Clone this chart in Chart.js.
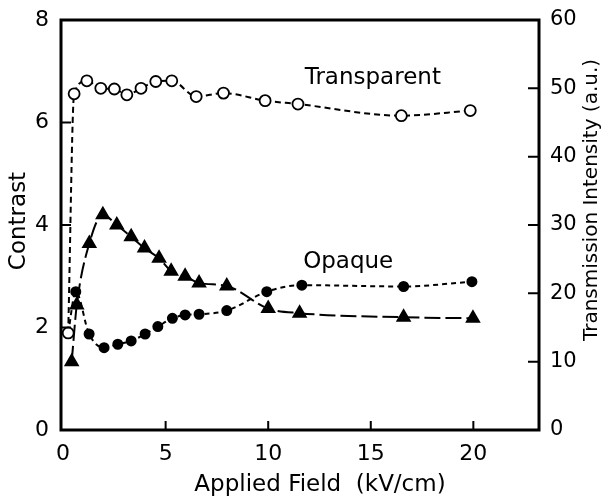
<!DOCTYPE html>
<html>
<head>
<meta charset="utf-8">
<script src="https://cdn.jsdelivr.net/npm/chart.js@4"></script>
<style>
  html, body { margin: 0; padding: 0; background: #fff; }
</style>
</head>
<body>
<canvas id="fieldChart" width="606" height="502"></canvas>
<script>
// applied field (kV/cm) for each series
var fieldTransparent = [0.25, 0.54, 1.16, 1.84, 2.5, 3.11, 3.8, 4.52, 5.3, 6.49, 7.82, 9.85, 11.45, 16.49, 19.85];
var fieldOpaque = [0.25, 0.62, 1.27, 2.0, 2.67, 3.32, 4.0, 4.62, 5.33, 5.95, 6.63, 7.98, 9.93, 11.64, 16.6, 19.93];
var fieldContrast = [0.42, 0.67, 1.28, 1.94, 2.62, 3.32, 3.97, 4.68, 5.27, 5.95, 6.63, 7.98, 10.0, 11.53, 16.6, 19.98];

// transmission intensity (a.u.), right axis
var transparent = [14.2, 49.2, 51.1, 50.0, 49.9, 49.05, 50.0, 51.0, 51.1, 48.8, 49.3, 48.2, 47.7, 46.0, 46.75];
var opaque = [14.2, 20.25, 14.05, 12.05, 12.55, 13.03, 14.05, 15.13, 16.35, 16.84, 16.94, 17.47, 20.25, 21.2, 21.0, 21.7];

// contrast, left axis
var contrast = [1.33, 2.44, 3.64, 4.2, 4.0, 3.77, 3.55, 3.35, 3.1, 3.0, 2.87, 2.81, 2.37, 2.28, 2.2, 2.18];

var xTicks = [0, 5, 10, 15, 20];
var curveLabels = [
    { text: 'Transparent', x: 15.1, y: 51.5 },
    { text: 'Opaque', x: 13.9, y: 24.6 }
];

var FONT = 'DejaVu Sans';

function toPoints(xs, ys) {
    return ys.map(function(v, i) { return { x: xs[i], y: v }; });
}

// frame, inward tick marks, curve names and axis titles
var framePlugin = {
    id: 'frame',
    afterDraw: function(chart) {
        var ctx = chart.ctx;
        var a = chart.chartArea;
        var sx = chart.scales.x, sy = chart.scales.y, sy2 = chart.scales.y2;
        ctx.save();
        ctx.strokeStyle = '#000';
        ctx.lineWidth = 3;
        ctx.strokeRect(a.left, a.top, a.right - a.left, a.bottom - a.top);

        ctx.lineWidth = 2;
        ctx.beginPath();
        sy.ticks.forEach(function(t) {
            if (t.value <= sy.min || t.value >= sy.max) return;
            var p = sy.getPixelForValue(t.value);
            ctx.moveTo(a.left, p); ctx.lineTo(a.left + 10, p);
        });
        sy2.ticks.forEach(function(t) {
            if (t.value <= sy2.min || t.value >= sy2.max) return;
            var p = sy2.getPixelForValue(t.value);
            ctx.moveTo(a.right, p); ctx.lineTo(a.right - 11, p);
        });
        xTicks.forEach(function(v) {
            if (v === 0) return;
            var p = sx.getPixelForValue(v);
            ctx.moveTo(p, a.bottom); ctx.lineTo(p, a.bottom - 9);
        });
        ctx.stroke();

        ctx.fillStyle = '#000';
        ctx.textAlign = 'center';
        ctx.textBaseline = 'middle';
        ctx.font = '23px "' + FONT + '"';
        curveLabels.forEach(function(l) {
            ctx.fillText(l.text, sx.getPixelForValue(l.x), sy2.getPixelForValue(l.y));
        });

        ctx.font = '23px "' + FONT + '"';
        ctx.fillText('Applied Field  (kV/cm)', 320, 485);

        ctx.save();
        ctx.translate(19, 221);
        ctx.rotate(-Math.PI / 2);
        ctx.font = '23px "' + FONT + '"';
        ctx.fillText('Contrast', 0, 0);
        ctx.restore();

        ctx.save();
        ctx.translate(592, 200);
        ctx.rotate(-Math.PI / 2);
        ctx.font = '20px "' + FONT + '"';
        ctx.fillText('Transmission Intensity (a.u.)', 0, 0);
        ctx.restore();

        ctx.restore();
    }
};

var chart = new Chart(document.getElementById('fieldChart'), {
    type: 'line',
    data: {
        datasets: [{
            label: 'Transparent',
            data: toPoints(fieldTransparent, transparent),
            yAxisID: 'y2',
            borderColor: '#000',
            borderWidth: 2,
            borderDash: [6, 4],
            pointStyle: 'circle',
            pointRadius: 5.5,
            pointBorderWidth: 1.8,
            pointBackgroundColor: '#fff',
            pointBorderColor: '#000',
            tension: 0.3,
            cubicInterpolationMode: 'monotone',
            order: 1
        }, {
            label: 'Opaque',
            data: toPoints(fieldOpaque, opaque),
            yAxisID: 'y2',
            borderColor: '#000',
            borderWidth: 2,
            borderDash: [5, 4],
            pointStyle: 'circle',
            pointRadius: function(c) { return c.dataIndex === 0 ? 0 : 4.5; },
            pointBackgroundColor: '#000',
            pointBorderColor: '#000',
            tension: 0.3,
            cubicInterpolationMode: 'monotone',
            order: 2
        }, {
            label: 'Contrast',
            data: toPoints(fieldContrast, contrast),
            yAxisID: 'y',
            borderColor: '#000',
            borderWidth: 2,
            borderDash: [16, 5],
            pointStyle: 'triangle',
            pointRadius: 7,
            pointBackgroundColor: '#000',
            pointBorderColor: '#000',
            tension: 0.3,
            cubicInterpolationMode: 'monotone',
            order: 3
        }]
    },
    options: {
        responsive: false,
        animation: false,
        layout: { padding: { top: 20, left: 0, right: 0, bottom: 0 } },
        plugins: {
            legend: { display: false },
            tooltip: { enabled: false }
        },
        scales: {
            x: {
                type: 'linear',
                position: 'bottom',
                min: -0.1,
                max: 23.2,
                afterBuildTicks: function(s) {
                    s.ticks = xTicks.map(function(v) { return { value: v }; });
                },
                afterFit: function(s) { s.height = 72; },
                grid: { display: false },
                border: { display: false },
                ticks: {
                    color: '#000',
                    padding: 3,
                    maxRotation: 0,
                    font: { family: FONT, size: 22 }
                }
            },
            y: {
                position: 'left',
                min: 0,
                max: 8,
                afterFit: function(s) { s.width = 61; },
                grid: { display: false },
                border: { display: false },
                ticks: {
                    stepSize: 2,
                    color: '#000',
                    padding: 4,
                    font: { family: FONT, size: 22 }
                }
            },
            y2: {
                position: 'right',
                min: 0,
                max: 60,
                afterFit: function(s) { s.width = 67; },
                grid: { display: false },
                border: { display: false },
                ticks: {
                    stepSize: 10,
                    color: '#000',
                    padding: 3,
                    font: { family: FONT, size: 21 }
                }
            }
        }
    },
    plugins: [framePlugin]
});
</script>
</body>
</html>
